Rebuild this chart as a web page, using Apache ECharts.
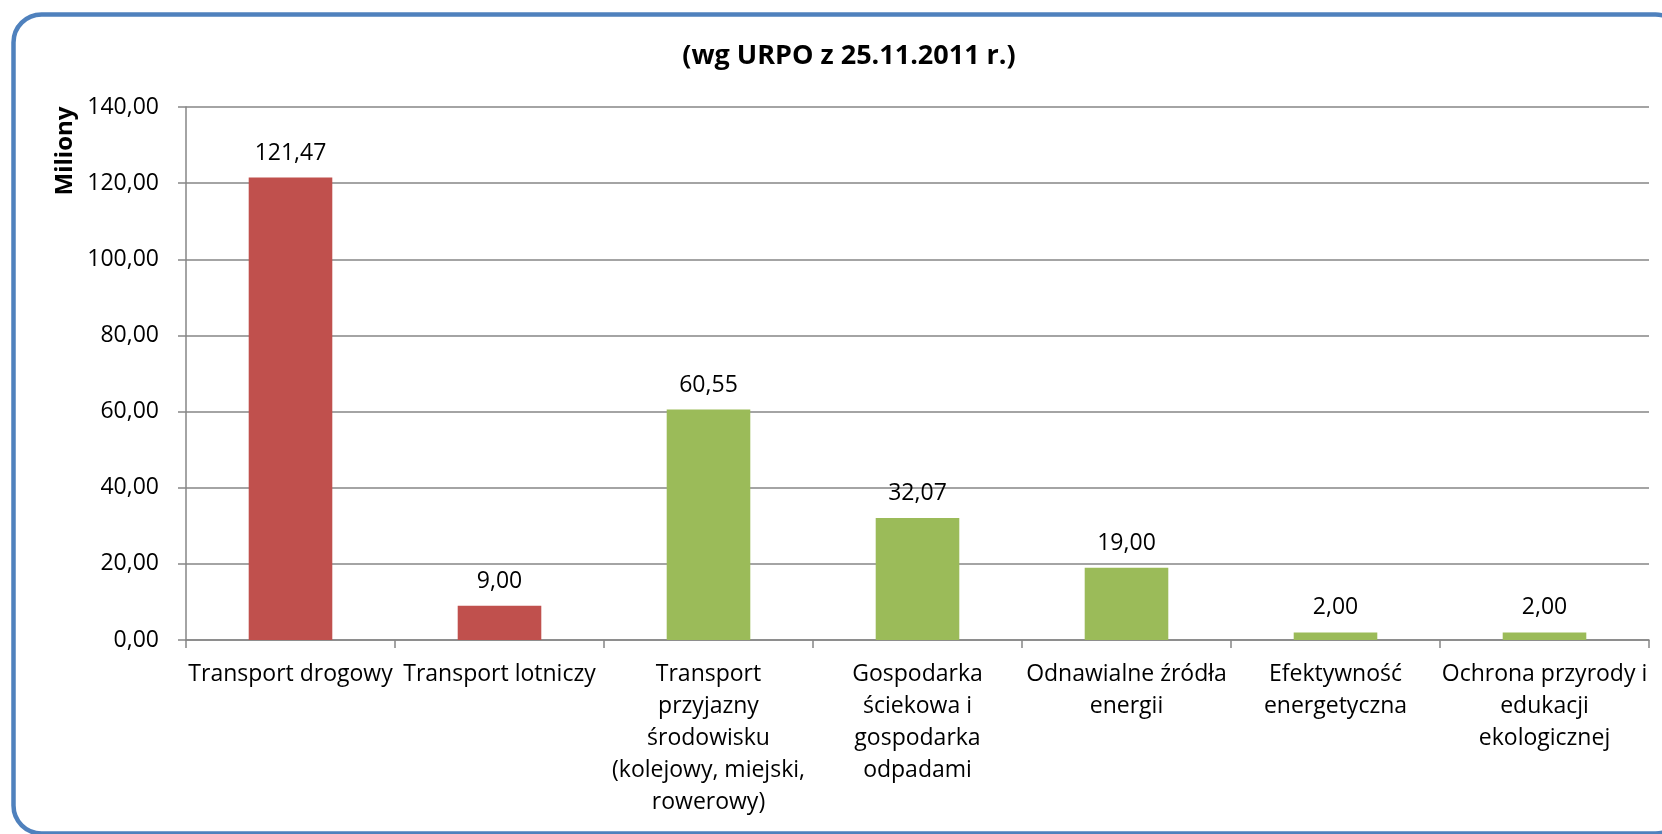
<!DOCTYPE html>
<html>
<head>
<meta charset="utf-8">
<script src="https://cdn.jsdelivr.net/npm/echarts@6/dist/echarts.min.js"></script>
<style>
html,body{margin:0;padding:0;background:#fff;}
#c{width:1662px;height:834px;}
</style>
</head>
<body>
<div id="c"></div>
<script>
const categories = [
  'Transport drogowy',
  'Transport lotniczy',
  'Transport\nprzyjazny\nśrodowisku\n(kolejowy, miejski,\nrowerowy)',
  'Gospodarka\nściekowa i\ngospodarka\nodpadami',
  'Odnawialne źródła\nenergii',
  'Efektywność\nenergetyczna',
  'Ochrona przyrody i\nedukacji\nekologicznej'
];
const values = [121.47, 9.00, 60.55, 32.07, 19.00, 2.00, 2.00];
const yTicks = { min: 0, max: 140, interval: 20 };
const titleText = '(wg URPO z 25.11.2011 r.)';
const yAxisName = 'Miliony';

const barColors = ['#C0504D', '#C0504D', '#9BBB59', '#9BBB59', '#9BBB59', '#9BBB59', '#9BBB59'];
const FONT = '"Open Sans", "DejaVu Sans", sans-serif';
const fmt = v => Number(v).toFixed(2).replace('.', ',');

const chart = echarts.init(document.getElementById('c'));
chart.setOption({
  animation: false,
  backgroundColor: '#fff',
  title: {
    text: titleText,
    left: 844,
    top: 38,
    textAlign: 'center',
    textStyle: { fontFamily: FONT, fontWeight: 'bold', fontSize: 27, color: '#000' }
  },
  graphic: [
    {
      type: 'rect',
      shape: { x: 13.5, y: 14.5, width: 1670, height: 819, r: 28 },
      style: { fill: null, stroke: '#4F81BD', lineWidth: 4.5 },
      silent: true,
      z: 100
    },
    {
      type: 'text',
      x: 65,
      y: 151,
      rotation: Math.PI / 2,
      style: {
        text: yAxisName,
        font: 'bold 24px ' + FONT,
        fill: '#000',
        align: 'center',
        verticalAlign: 'middle'
      }
    }
  ],
  grid: { left: 186, right: 13, top: 107, bottom: 194, containLabel: false },
  xAxis: {
    type: 'category',
    data: categories,
    axisLine: { show: true, lineStyle: { color: '#868686', width: 1.5 } },
    axisTick: { show: true, length: 8, lineStyle: { color: '#868686', width: 1.5 } },
    axisLabel: {
      interval: 0,
      margin: 18,
      color: '#000',
      fontFamily: FONT,
      fontSize: 23,
      lineHeight: 32,
      align: 'center'
    }
  },
  yAxis: {
    type: 'value',
    min: yTicks.min,
    max: yTicks.max,
    interval: yTicks.interval,
    axisLine: { show: true, lineStyle: { color: '#868686', width: 1.5 } },
    axisTick: { show: true, length: 8, lineStyle: { color: '#868686', width: 1.5 } },
    splitLine: { show: true, lineStyle: { color: '#868686', width: 1.5 } },
    axisLabel: {
      margin: 27,
      color: '#000',
      fontFamily: FONT,
      fontSize: 23,
      formatter: fmt
    }
  },
  series: [{
    type: 'bar',
    barWidth: '40%',
    data: values.map((v, i) => ({ value: v, itemStyle: { color: barColors[i] } })),
    label: {
      show: true,
      position: 'top',
      distance: 13,
      color: '#000',
      fontFamily: FONT,
      fontSize: 23,
      formatter: p => fmt(p.value)
    }
  }]
});
</script>
</body>
</html>
